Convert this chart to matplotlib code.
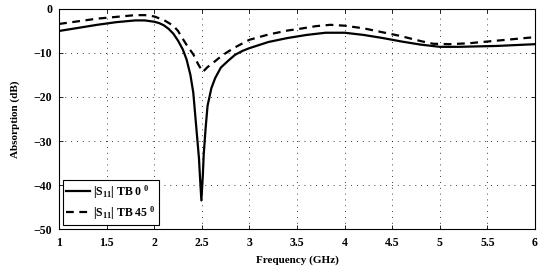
import matplotlib
matplotlib.use("Agg")
import matplotlib.pyplot as plt

freq_tb0 = [1.0, 1.2, 1.4, 1.6, 1.8, 1.9, 2.0, 2.05, 2.1, 2.15, 2.2, 2.25, 2.3, 2.34,
            2.38, 2.41, 2.43, 2.45, 2.47, 2.48, 2.495, 2.51, 2.52, 2.54, 2.56, 2.6,
            2.64, 2.7, 2.78, 2.85, 2.93, 3.0, 3.2, 3.4, 3.6, 3.8, 4.0, 4.2, 4.4, 4.6,
            4.8, 5.0, 5.2, 5.4, 5.6, 5.8, 6.0]
s11_tb0 = [-5.0, -4.3, -3.6, -3.0, -2.6, -2.6, -2.9, -3.2, -3.7, -4.5, -5.6, -7.2, -9.2, -11.5,
           -15.0, -19.0, -24.0, -29.0, -34.0, -38.0, -43.5, -38.0, -33.0, -27.0, -22.0, -18.0,
           -15.7, -13.3, -11.7, -10.4, -9.5, -8.9, -7.5, -6.6, -5.9, -5.4, -5.4, -5.9, -6.6, -7.4,
           -8.1, -8.6, -8.6, -8.5, -8.4, -8.2, -8.0]

freq_tb45 = [1.0, 1.2, 1.4, 1.6, 1.8, 1.9, 2.0, 2.1, 2.2, 2.25, 2.3, 2.35, 2.41, 2.46,
             2.51, 2.56, 2.62, 2.7, 2.76, 2.85, 3.0, 3.2, 3.4, 3.53, 3.7, 3.85, 4.0,
             4.2, 4.4, 4.58, 4.8, 4.93, 5.1, 5.3, 5.5, 5.7, 5.85, 6.0]
s11_tb45 = [-3.4, -2.8, -2.2, -1.8, -1.4, -1.4, -1.7, -2.5, -3.8, -5.0, -6.8, -8.5, -10.3, -12.5,
            -14.3, -13.2, -12.2, -10.8, -9.9, -8.7, -7.0, -5.8, -4.9, -4.5, -3.9, -3.6, -3.8,
            -4.4, -5.3, -6.1, -7.3, -7.9, -8.0, -7.8, -7.4, -7.0, -6.7, -6.4]

xticks = [1, 1.5, 2, 2.5, 3, 3.5, 4, 4.5, 5, 5.5, 6]
xticklabels = ["1", "1.5", "2", "2.5", "3", "3.5", "4", "4.5", "5", "5.5", "6"]
yticks = [0, -10, -20, -30, -40, -50]
yticklabels = ["0", "\u221210", "\u221220", "\u221230", "\u221240", "\u221250"]

plt.rcParams['font.family'] = ['Liberation Serif', 'DejaVu Serif']
plt.rcParams['mathtext.fontset'] = 'custom'
plt.rcParams['mathtext.rm'] = 'Liberation Serif:bold'
plt.rcParams['mathtext.bf'] = 'Liberation Serif:bold'

fig = plt.figure(figsize=(5.47, 2.72), dpi=100)
ax = fig.add_axes([0.108, 0.158, 0.870, 0.809])

ax.plot(freq_tb0, s11_tb0, color='black', lw=1.6, ls='-',
        label=r'$\mathregular{|S_{11}|}$ TB 0 $\mathregular{^0}$')
ax.plot(freq_tb45, s11_tb45, color='black', lw=1.6, ls=(0, (3.5, 2.5)),
        label=r'$\mathregular{|S_{11}|}$ TB 45 $\mathregular{^0}$')

ax.set_xlim(1, 6)
ax.set_ylim(-50, 0)
ax.set_xticks(xticks)
ax.set_xticklabels(xticklabels, fontsize=8.5, fontweight='bold')
ax.set_yticks(yticks)
ax.set_yticklabels(yticklabels, fontsize=8.5, fontweight='bold')
ax.tick_params(direction='in', length=3, width=0.6, top=True, right=True)
ax.tick_params(axis='x', pad=6)
ax.tick_params(axis='y', pad=5)
ax.grid(True, color='black', ls=(0, (1, 6)), lw=0.6)
for s in ax.spines.values():
    s.set_linewidth(0.8)

ax.set_xlabel('Frequency (GHz)', fontsize=8, fontweight='bold', labelpad=4)
ax.set_ylabel('Absorption (dB)', fontsize=8, fontweight='bold', labelpad=10)

leg = ax.legend(loc='lower left', frameon=True, fancybox=False,
                edgecolor='black', framealpha=1, borderpad=0.3, handlelength=2.0,
                handletextpad=0.3, labelspacing=0.3, borderaxespad=0.3,
                prop={'weight': 'bold', 'size': 8.5})
leg.get_frame().set_linewidth(0.8)

fig.savefig('out.png', dpi=100)
